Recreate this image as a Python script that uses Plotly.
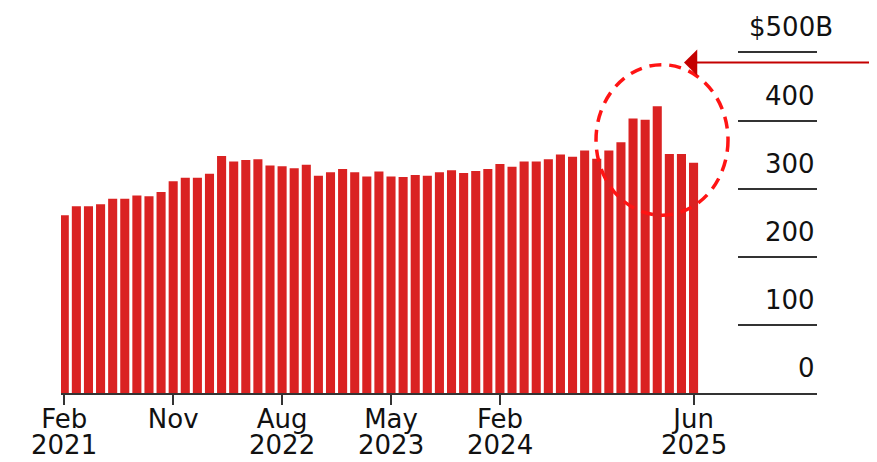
import plotly.graph_objects as go

# ---- data ----
months = [f"{y}-{m:02d}" for y in range(2021, 2026) for m in range(1, 13)
          if (y, m) >= (2021, 2) and (y, m) <= (2025, 6)]
values = [261, 274, 274, 277, 285, 285, 290, 289, 295, 311,
          316, 316, 322, 348, 340, 342, 343, 334, 333, 330,
          335, 319, 324, 329, 324, 318, 325, 318, 317, 320,
          319, 324, 327, 323, 326, 329, 336, 332, 340, 340,
          343, 350, 347, 356, 344, 356, 368, 403, 401, 421,
          351, 351, 338]
tick_months = ["2021-02", "2021-11", "2022-08", "2023-05", "2024-02", "2025-06"]
tick_text = ["Feb", "Nov", "Aug", "May", "Feb", "Jun"]
tick_years = ["2021", "", "2022", "2023", "2024", "2025"]
y_ticks = [0, 100, 200, 300, 400, 500]
y_labels = ["0", "100", "200", "300", "400", "$500B"]

FONT = "DejaVu Sans"
TXT = "#111111"
BAR = "#da2222"

fig = go.Figure(go.Bar(x=months, y=values, marker=dict(color=BAR, line=dict(width=0))))

# page body has an 8px margin, so the figure is sized/offset to compensate
fig.update_layout(
    width=869, height=454,
    margin=dict(l=53, r=60, t=41, b=69),
    plot_bgcolor="white", paper_bgcolor="white",
    showlegend=False, bargap=0.25,
    font=dict(family=FONT, color=TXT, size=26),
)
fig.update_xaxes(
    type="category", range=[-0.27, 62.2],
    showline=True, linecolor="#333333", linewidth=2,
    ticks="outside", ticklen=10, tickwidth=2, tickcolor="#333333",
    tickmode="array", tickvals=tick_months, ticktext=tick_text,
    tickfont=dict(family=FONT, size=26, color=TXT),
    ticklabelstandoff=-8,
    showgrid=False, zeroline=False,
)
fig.update_yaxes(
    range=[0, 505], side="right",
    ticks="inside", ticklen=79, tickwidth=2, tickcolor="#333333",
    tickmode="array", tickvals=y_ticks[1:],
    showticklabels=False, showgrid=False, zeroline=False, showline=False,
)

# right-side value labels (above their rules)
for v, lab in zip(y_ticks, y_labels):
    fig.add_annotation(
        xref="paper", yref="y", x=1, y=v, text=lab, showarrow=False,
        xanchor="right", yanchor="middle", yshift=25,
        xshift=18 if lab.endswith("B") else 0,
        font=dict(family=FONT, size=26, color=TXT),
    )

# year labels under month ticks
for m, yr in zip(tick_months, tick_years):
    if yr:
        fig.add_annotation(
            xref="x", yref="paper", x=m, y=0, text=yr, showarrow=False,
            xanchor="center", yanchor="middle", yshift=-52,
            font=dict(family=FONT, size=26, color=TXT),
        )

# dashed ellipse highlight
fig.add_shape(
    type="circle", xref="paper", yref="y",
    x0=0.7077, x1=0.8823, y0=261, y1=482,
    line=dict(color="#ff1414", width=3.5, dash="12px,8px"),
)

# arrow from the right edge
fig.add_annotation(
    xref="paper", yref="y", x=0.8241, y=485,
    ax=200, ay=0, axref="pixel", ayref="pixel",
    text="", showarrow=True, arrowhead=1, arrowsize=2.2,
    arrowwidth=2, arrowcolor="#c40000", standoff=0,
)

fig.write_html("out.html")
